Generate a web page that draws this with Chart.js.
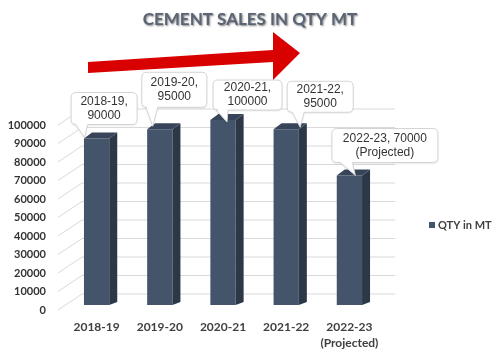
<!DOCTYPE html>
<html>
<head>
<meta charset="utf-8">
<script src="https://cdn.jsdelivr.net/npm/chart.js@4.4.0/dist/chart.umd.min.js"></script>
<style>
  html, body { margin: 0; padding: 0; background: #fff; }
  #wrap { width: 502px; height: 353px; }
</style>
</head>
<body>
<div id="wrap"><canvas id="cementChart"></canvas></div>
<script>
const periods = ['2018-19', '2019-20', '2020-21', '2021-22', '2022-23'];
const notes = ['', '', '', '', '(Projected)'];
const sales = [90000, 95000, 100000, 95000, 70000];
const yTicks = [0, 10000, 20000, 30000, 40000, 50000, 60000, 70000, 80000, 90000, 100000];
const seriesName = 'QTY in MT';
const chartTitle = 'CEMENT SALES IN QTY MT';

const xLabels = periods.map((p, i) => notes[i] ? [p, notes[i]] : p);
const calloutText = periods.map((p, i) =>
    notes[i] ? [p + ', ' + sales[i], notes[i]] : [p + ',', String(sales[i])]);

// callout boxes, relative to the top centre of each bar's front face
const calloutLayout = [
    { left: -25.5, top: -46, w: 66, h: 32, tip: [-12, -1], base: [-21, -9] },
    { left: -18, top: -57, w: 65, h: 35, tip: [-7, -3], base: [-14, -2] },
    { left: -10, top: -40, w: 69, h: 30, tip: [4, 2], base: [-7, 5] },
    { left: 1, top: -48, w: 66, h: 31, tip: [14, -2], base: [6, 18] },
    { left: -17.5, top: -47, w: 106, h: 34, tip: [6, 0], base: [-9, 3] },
];

const depth = { dx: 8, dy: -6 };
const wall = { dx: 24, dy: -16, front: 58, right: 395 };

const decor = {
    id: 'decor',
    beforeDatasetsDraw(chart) {
        const { ctx, scales: { y } } = chart;
        ctx.save();
        ctx.strokeStyle = '#d9d9d9';
        ctx.lineWidth = 1;
        yTicks.forEach((v) => {
            const py = y.getPixelForValue(v);
            ctx.beginPath();
            ctx.moveTo(wall.front, py + 5);
            ctx.lineTo(wall.front + wall.dx, py + 5 + wall.dy);
            ctx.lineTo(wall.right, py + 5 + wall.dy);
            ctx.stroke();
        });
        ctx.restore();
    },
    afterDatasetsDraw(chart) {
        const { ctx } = chart;
        const bars = chart.getDatasetMeta(0).data;
        ctx.save();
        bars.forEach((bar) => {
            const l = bar.x - bar.width / 2;
            const r = bar.x + bar.width / 2;
            ctx.fillStyle = '#2c3848';
            ctx.beginPath();
            ctx.moveTo(r, bar.y);
            ctx.lineTo(r + depth.dx, bar.y + depth.dy);
            ctx.lineTo(r + depth.dx, bar.base - 3);
            ctx.lineTo(r, bar.base);
            ctx.closePath();
            ctx.fill();
            ctx.fillStyle = '#37445a';
            ctx.beginPath();
            ctx.moveTo(l, bar.y);
            ctx.lineTo(r, bar.y);
            ctx.lineTo(r + depth.dx, bar.y + depth.dy);
            ctx.lineTo(l + depth.dx, bar.y + depth.dy);
            ctx.closePath();
            ctx.fill();
        });

        // callouts
        ctx.font = '12px "Liberation Sans", Arial, sans-serif';
        ctx.textAlign = 'center';
        ctx.textBaseline = 'middle';
        bars.forEach((bar, i) => {
            const c = calloutLayout[i];
            const x = bar.x + c.left;
            const yTop = bar.y + c.top;
            const bottom = yTop + c.h;
            const rad = 5;
            ctx.beginPath();
            ctx.moveTo(x + rad, yTop);
            ctx.lineTo(x + c.w - rad, yTop);
            ctx.quadraticCurveTo(x + c.w, yTop, x + c.w, yTop + rad);
            ctx.lineTo(x + c.w, bottom - rad);
            ctx.quadraticCurveTo(x + c.w, bottom, x + c.w - rad, bottom);
            ctx.lineTo(bar.x + c.base[1], bottom);
            ctx.lineTo(bar.x + c.tip[0], bar.y + c.tip[1]);
            ctx.lineTo(bar.x + c.base[0], bottom);
            ctx.lineTo(x + rad, bottom);
            ctx.quadraticCurveTo(x, bottom, x, bottom - rad);
            ctx.lineTo(x, yTop + rad);
            ctx.quadraticCurveTo(x, yTop, x + rad, yTop);
            ctx.closePath();
            ctx.fillStyle = '#ffffff';
            ctx.shadowColor = 'rgba(0,0,0,0.12)';
            ctx.shadowBlur = 2;
            ctx.shadowOffsetY = 1;
            ctx.fill();
            ctx.shadowColor = 'transparent';
            ctx.strokeStyle = '#d4d4d4';
            ctx.lineWidth = 1;
            ctx.stroke();
            ctx.fillStyle = '#333333';
            const lines = calloutText[i];
            const mid = yTop + c.h / 2;
            lines.forEach((t, k) => {
                ctx.fillText(t, x + c.w / 2, mid + (k - (lines.length - 1) / 2) * 14);
            });
        });
        ctx.restore();
    },
    afterDraw(chart) {
        const { ctx } = chart;
        ctx.save();
        // title
        ctx.font = 'bold 17px Lato, sans-serif';
        ctx.textAlign = 'center';
        ctx.textBaseline = 'middle';
        ctx.shadowColor = 'rgba(0,0,0,0.5)';
        ctx.shadowBlur = 2;
        ctx.shadowOffsetX = 1;
        ctx.shadowOffsetY = 1;
        ctx.fillStyle = '#5a6474';
        ctx.fillText(chartTitle, 250, 20);
        ctx.shadowColor = 'transparent';

        // red arrow
        ctx.fillStyle = '#d90000';
        ctx.beginPath();
        ctx.moveTo(88, 62);
        ctx.lineTo(273, 50);
        ctx.lineTo(273, 32);
        ctx.lineTo(300, 53);
        ctx.lineTo(273, 80);
        ctx.lineTo(273, 62);
        ctx.lineTo(88, 73);
        ctx.closePath();
        ctx.fill();

        // legend
        ctx.fillStyle = chart.data.datasets[0].backgroundColor;
        ctx.fillRect(429, 222, 6, 6);
        ctx.fillStyle = '#404040';
        ctx.font = 'bold 11px Lato, sans-serif';
        ctx.textAlign = 'left';
        ctx.fillText(chart.data.datasets[0].label, 438, 225);
        ctx.restore();
    },
};

new Chart(document.getElementById('cementChart'), {
    type: 'bar',
    data: {
        labels: xLabels,
        datasets: [
            {
                label: seriesName,
                data: sales,
                backgroundColor: '#44546a',
                borderWidth: 0,
                categoryPercentage: 1,
                barPercentage: 0.4,
            },
        ],
    },
    options: {
        responsive: true,
        maintainAspectRatio: false,
        animation: false,
        devicePixelRatio: 1,
        layout: { padding: { left: 8, right: 121, top: 120, bottom: 0 } },
        plugins: {
            legend: { display: false },
            title: { display: false },
            tooltip: { enabled: false },
        },
        scales: {
            x: {
                grid: { display: false, drawTicks: false },
                border: { display: false },
                ticks: {
                    color: '#404040',
                    padding: 14,
                    autoSkip: false,
                    maxRotation: 0,
                    minRotation: 0,
                    font: { family: 'Lato', weight: 'bold', size: 12, lineHeight: 1.33 },
                },
                afterFit: (scale) => { scale.height = 48; },
            },
            y: {
                min: 0,
                max: 100000,
                grid: { display: false, drawTicks: false },
                border: { display: false },
                ticks: {
                    stepSize: 10000,
                    color: '#333333',
                    padding: 19,
                    labelOffset: 5,
                    font: { family: 'Lato', weight: 'bold', size: 11 },
                    callback: (v) => String(v),
                },
                afterFit: (scale) => { scale.width = 57; },
            },
        },
    },
    plugins: [decor],
});
</script>
</body>
</html>
